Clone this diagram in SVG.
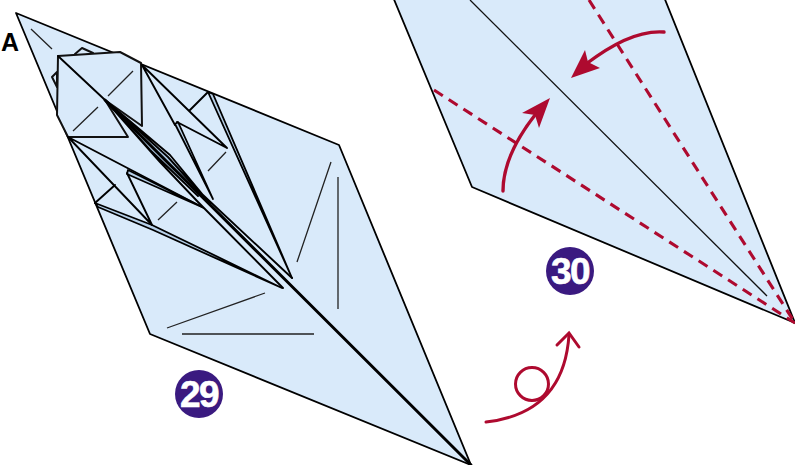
<svg xmlns="http://www.w3.org/2000/svg" width="795" height="465" viewBox="0 0 795 465">
<style>
.paper{fill:#d9eafa;stroke:#000;stroke-width:1.8;stroke-linejoin:round}
.flap{fill:#d9eafa;stroke:#111;stroke-width:2;stroke-linejoin:round}
.strip{fill:#b7d0e8;stroke:#000;stroke-width:1.8;stroke-linejoin:round}
.ln{fill:none;stroke:#000;stroke-width:1.9;stroke-linejoin:round;stroke-linecap:round}
.thin{fill:none;stroke:#222;stroke-width:1.3}
.dash{fill:none;stroke:#ae0a2f;stroke-width:3.1;stroke-dasharray:10.5 7}
.red{fill:none;stroke:#ae0a2f;stroke-width:3;stroke-linecap:round}
.head{fill:#ae0a2f}
.badge{fill:#3a1a80}
.num{font-family:"Liberation Sans",Arial,sans-serif;font-weight:700;font-size:37px;letter-spacing:-1.5px;fill:#fff;stroke:#fff;stroke-width:.6;text-anchor:middle}
</style>
<g id="model-29">
<polygon class="paper" points="16,13 339,145 471,465 150,334"/>
<polygon class="flap" points="75,54 82,48 93,53 75,58"/>
<polygon class="flap" points="57,72 52,77 57,87"/>
<polygon class="flap" points="58,56 120,52 141,63 142,126 105,100 128,137 68,137 57,115"/>
<path class="ln" d="M58,56 L105,100"/>
<polygon class="strip" points="208,92 213,94 292,278"/>
<polygon class="strip" points="175,124 178,122 213,199"/>
<polygon class="strip" points="128,170 127,174 204,208"/>
<polygon class="strip" points="95,203 98,207 153,230 282,288 152,225"/>
<path class="ln" d="M142,65 L175,125 M142,65 L227,148 M177,122 L227,148 M189,111 L208,92"/>
<path class="ln" d="M68,137 L204,208 M68,137 L152,225 M127,173 L152,225 M115,185 L95,203"/>
<polygon points="105,100 170,155 203,195 292,278 283,288 198,202 160,162" fill="#d9eafa"/>
<polygon points="105,100 168,157 205,200 198,196 150,150" fill="#a9c4de"/>
<path class="ln" d="M105,100 L170,155 L203,195 L292,278 M105,100 L160,162 L198,202 L283,288 M105,100 L150,150 L198,196 M105,100 L168,157 L210,204"/>
<path class="ln" style="stroke-width:2.9" d="M105,100 L471,465"/>
<path class="thin" d="M31,29 L52,49 M133,71 L108,96 M98,107 L73,131 M177,202 L158,220 M226,152 L208,171 M331,162 L297,262 M338,177 L338,309 M265,293 L167,328 M182,334 L314,334"/>
</g>
<g id="model-30">
<polygon class="paper" points="393,-3 664,-3 795,323 472,187"/>
<path class="thin" d="M470,0 L767,296" style="stroke:#111"/>
<path class="dash" d="M434,90 L795,323"/>
<path class="dash" d="M589,0 L795,323"/>
</g>
<g id="connectors">
<path class="red" style="stroke-width:3.4" d="M664,32 C637,30 610,46 586,64"/>
<polygon class="head" points="571,78 585,50 588,62 600,68"/>
<path class="red" style="stroke-width:3.4" d="M503,191 C503,165 517,138 535,115"/>
<polygon class="head" points="550,98 522,113 535,115 539,128"/>
<path class="red" d="M486,422 C530,417 565,395 569,335"/>
<path class="red" d="M557,345 L569,333 L579,347"/>
<circle class="red" cx="532" cy="384" r="16.5"/>
</g>
<g id="badge-29"><circle class="badge" cx="199" cy="394" r="24"/><text class="num" x="199" y="407">29</text></g>
<g id="badge-30"><circle class="badge" cx="570" cy="271" r="24"/><text class="num" x="570" y="284">30</text></g>
<g id="label-a"><text x="1" y="51" style="font-family:'Liberation Sans',Arial,sans-serif;font-weight:700;font-size:25px;fill:#000">A</text></g>
</svg>
